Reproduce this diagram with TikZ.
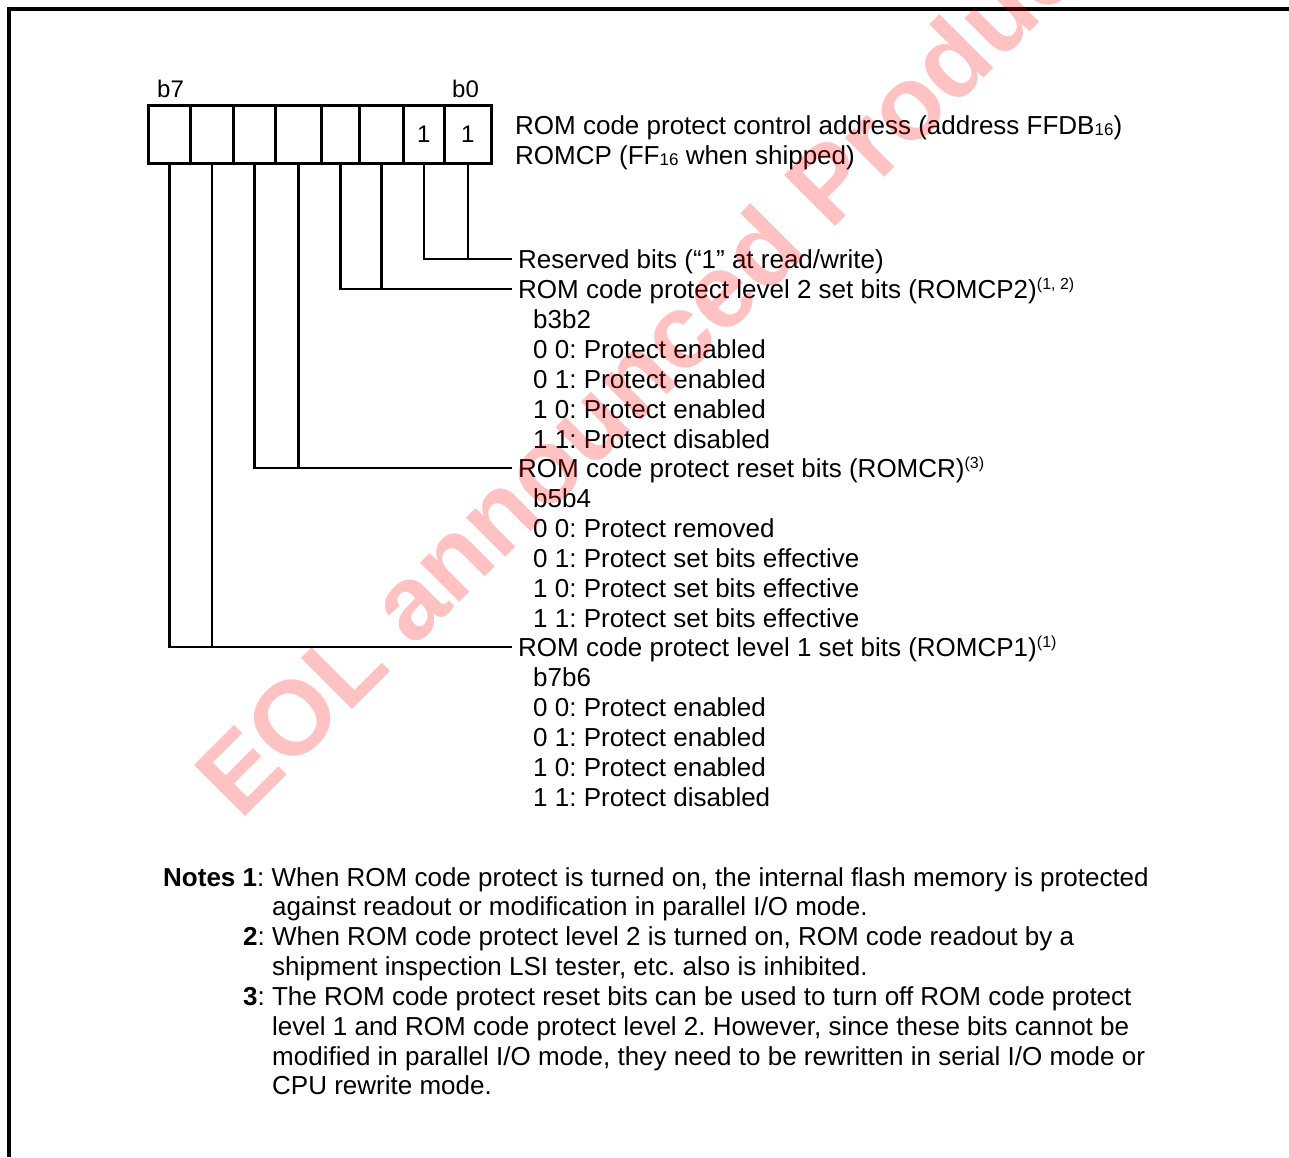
\documentclass[tikz,border=0pt]{standalone}
\usepackage{fontspec}
\setmainfont{Liberation Sans}
\frenchspacing
\newcommand\subsixteen{\raisebox{-1.5pt}{\fontsize{17}{17}\selectfont 16}}
\newcommand\supnote[1]{\raisebox{9pt}{\fontsize{16}{16}\selectfont(#1)}}
\begin{document}
\begin{tikzpicture}[x=1pt,y=-1pt,
  txt/.style={anchor=base west,inner sep=0pt,font=\fontsize{26}{30}\selectfont},
  cell/.style={draw,line width=2.5pt,minimum height=58pt,inner sep=0pt,anchor=north west,font=\fontsize{24}{28}\selectfont},
  conn/.style={line width=2.5pt},
  frameline/.style={line width=3.5pt},
  wmark/.style={anchor=base west,rotate=45,inner sep=0pt,text=red,text opacity=0.24,font=\fontsize{105}{105}\selectfont\bfseries}
]
\useasboundingbox (0,0) rectangle (1289,1157);
% frame
\draw[frameline] (9,1157) -- (9,9) -- (1289,9);

% bit cells
\node[cell,minimum width=42pt] (c7) at (147,104) {};
\node[cell,minimum width=43pt] (c6) at (189,104) {};
\node[cell,minimum width=42pt] (c5) at (232,104) {};
\node[cell,minimum width=46pt] (c4) at (274,104) {};
\node[cell,minimum width=38pt] (c3) at (320,104) {};
\node[cell,minimum width=44pt] (c2) at (358,104) {};
\node[cell,minimum width=41pt] (c1) at (402,104) {1};
\node[cell,minimum width=47pt] (c0) at (443,104) {1};
\node[txt,font=\fontsize{24}{28}\selectfont] (b7) at (157,97) {b7};
\node[txt,font=\fontsize{24}{28}\selectfont] (b0) at (452,97) {b0};

% register title
\node[txt] (title1) at (515,134) {ROM code protect control address (address FFDB\subsixteen)};
\node[txt] (title2) at (515,164) {ROMCP (FF\subsixteen{} when shipped)};

% labels
\node[txt] (res) at (518,268) {Reserved bits (“1” at read/write)};
\node[txt] (cp2) at (518,298) {ROM code protect level 2 set bits (ROMCP2)\supnote{1, 2}};
\node[txt] (cp2a) at (533,328) {b3b2};
\node[txt] (cp2b) at (533,358) {0 0: Protect enabled};
\node[txt] (cp2c) at (533,388) {0 1: Protect enabled};
\node[txt] (cp2d) at (533,418) {1 0: Protect enabled};
\node[txt] (cp2e) at (533,448) {1 1: Protect disabled};
\node[txt] (cr) at (518,477) {ROM code protect reset bits (ROMCR)\supnote{3}};
\node[txt] (cra) at (533,507) {b5b4};
\node[txt] (crb) at (533,537) {0 0: Protect removed};
\node[txt] (crc) at (533,567) {0 1: Protect set bits effective};
\node[txt] (crd) at (533,597) {1 0: Protect set bits effective};
\node[txt] (cre) at (533,627) {1 1: Protect set bits effective};
\node[txt] (cp1) at (518,656) {ROM code protect level 1 set bits (ROMCP1)\supnote{1}};
\node[txt] (cp1a) at (533,686) {b7b6};
\node[txt] (cp1b) at (533,716) {0 0: Protect enabled};
\node[txt] (cp1c) at (533,746) {0 1: Protect enabled};
\node[txt] (cp1d) at (533,776) {1 0: Protect enabled};
\node[txt] (cp1e) at (533,806) {1 1: Protect disabled};

% connectors
\coordinate (jres) at ([xshift=-6pt,yshift=9pt]res.base west);
\coordinate (jcp2) at ([xshift=-6pt,yshift=9pt]cp2.base west);
\coordinate (jcr) at ([xshift=-6pt,yshift=9pt]cr.base west);
\coordinate (jcp1) at ([xshift=-6pt,yshift=9pt]cp1.base west);
\draw[conn] (c1.south) |- (jres);
\draw[conn] (c0.south) -- (c0.south |- jres);
\draw[conn] (c3.south) |- (jcp2);
\draw[conn] (c2.south) -- (c2.south |- jcp2);
\draw[conn] (c5.south) |- (jcr);
\draw[conn] (c4.south) -- (c4.south |- jcr);
\draw[conn] (c7.south) |- (jcp1);
\draw[conn] (c6.south) -- (c6.south |- jcp1);

% notes
\node[txt] (n1a) at (163,886) {\textbf{Notes 1}: When ROM code protect is turned on, the internal flash memory is protected};
\node[txt] (n1b) at (272,915) {against readout or modification in parallel I/O mode.};
\node[txt] (n2a) at (243,945) {\textbf{2}: When ROM code protect level 2 is turned on, ROM code readout by a};
\node[txt] (n2b) at (272,975) {shipment inspection LSI tester, etc. also is inhibited.};
\node[txt] (n3a) at (243,1005) {\textbf{3}: The ROM code protect reset bits can be used to turn off ROM code protect};
\node[txt] (n3b) at (272,1035) {level 1 and ROM code protect level 2. However, since these bits cannot be};
\node[txt] (n3c) at (272,1065) {modified in parallel I/O mode, they need to be rewritten in serial I/O mode or};
\node[txt] (n3d) at (272,1094) {CPU rewrite mode.};

% watermark
\node[wmark] (wm) at (240,822) {EOL announced Product};
\end{tikzpicture}
\end{document}
